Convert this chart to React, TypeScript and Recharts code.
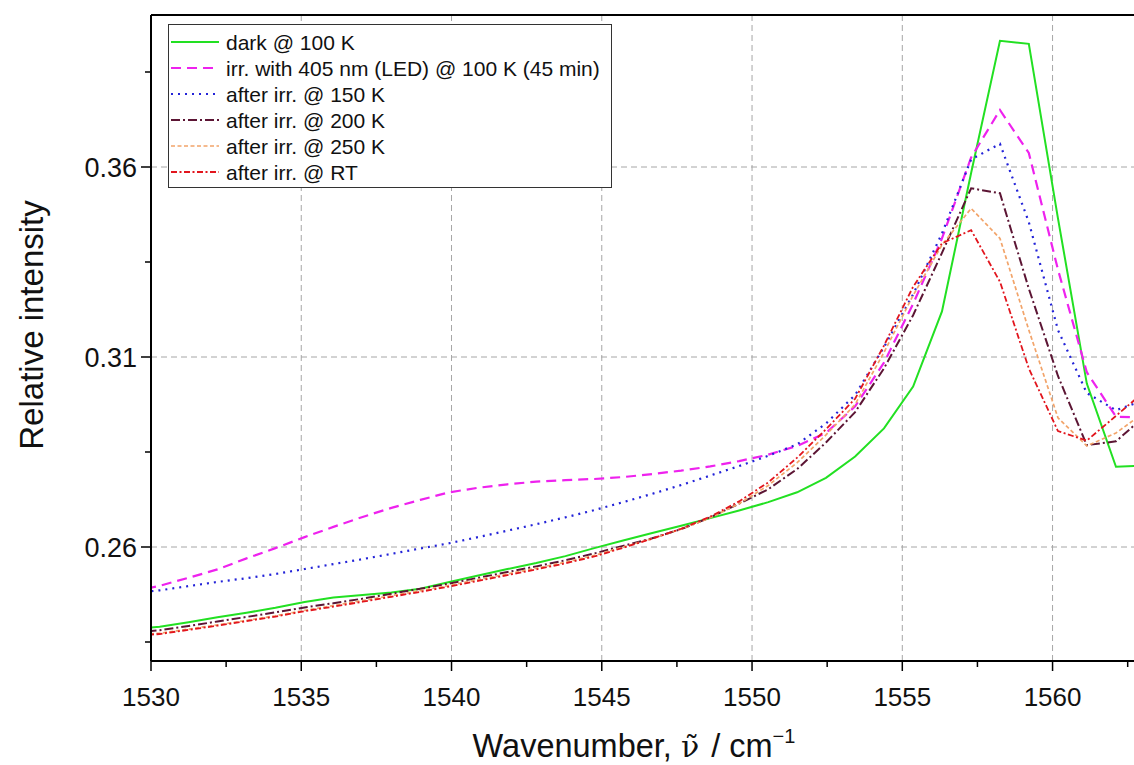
import {
  CartesianGrid,
  Legend,
  Line,
  LineChart,
  ReferenceLine,
  XAxis,
  YAxis,
} from "recharts";

const FONT = '"Liberation Sans", Arial, sans-serif';

// wavenumber grid of the spectra (cm^-1)
const WAVENUMBER = [
  1529.32, 1530.29, 1531.25, 1532.21, 1533.18, 1534.14, 1535.11, 1536.07,
  1537.04, 1538.0, 1538.96, 1539.93, 1540.89, 1541.86, 1542.82, 1543.79,
  1544.75, 1545.71, 1546.68, 1547.64, 1548.61, 1549.57, 1550.54, 1551.5,
  1552.46, 1553.43, 1554.39, 1555.36, 1556.32, 1557.29, 1558.25, 1559.21,
  1560.18, 1561.14, 1562.11, 1563.07,
];

const DARK_100K = [
  0.2383, 0.239, 0.2402, 0.2415, 0.2427, 0.244, 0.2455, 0.2467, 0.2474, 0.248,
  0.249, 0.2508, 0.2525, 0.2542, 0.2558, 0.2576, 0.2597, 0.2617, 0.2637,
  0.2656, 0.2676, 0.2696, 0.2718, 0.2744, 0.2782, 0.2838, 0.2912, 0.3022,
  0.322, 0.3584, 0.3932, 0.3924, 0.3465, 0.303, 0.2811, 0.2814,
];

const IRR_405_100K = [
  0.2481, 0.2498, 0.2519, 0.2541, 0.257, 0.2597, 0.2626, 0.2653, 0.2679,
  0.2703, 0.2724, 0.2744, 0.2756, 0.2765, 0.2772, 0.2776, 0.2779, 0.2784,
  0.2792, 0.2801, 0.2812, 0.2826, 0.2843, 0.2866, 0.29, 0.297, 0.3085, 0.324,
  0.3412, 0.3625, 0.375, 0.3637, 0.333, 0.306, 0.2943, 0.294,
];

const AFTER_150K = [
  0.2478, 0.2486, 0.2497, 0.2508, 0.2518, 0.2529, 0.2542, 0.2555, 0.2568,
  0.2582, 0.2596, 0.261, 0.2626, 0.2643, 0.266, 0.2678, 0.2697, 0.2718, 0.274,
  0.2763, 0.2788, 0.2813, 0.284, 0.287, 0.2925, 0.3, 0.3126, 0.3265, 0.3425,
  0.362, 0.3661, 0.3455, 0.3171, 0.3005, 0.296, 0.2987,
];

const AFTER_200K = [
  0.2375, 0.2381, 0.2392, 0.2404, 0.2416, 0.2428, 0.2441, 0.2452, 0.2464,
  0.2477, 0.249, 0.2504, 0.2519, 0.2534, 0.2549, 0.2565, 0.2583, 0.2603,
  0.2623, 0.2647, 0.2678, 0.2714, 0.2752, 0.2805, 0.2875, 0.2955, 0.307,
  0.321, 0.3374, 0.3544, 0.3531, 0.328, 0.305, 0.2868, 0.2878, 0.2945,
];

const AFTER_250K = [
  0.2368, 0.2373, 0.2384, 0.2395, 0.2407, 0.2419, 0.2433, 0.2446, 0.2459,
  0.2472, 0.2485, 0.2499, 0.2514, 0.2529, 0.2544, 0.256, 0.2578, 0.26, 0.2622,
  0.2647, 0.2677, 0.2714, 0.2762, 0.2822, 0.2895, 0.2975, 0.3112, 0.3262,
  0.3395, 0.3491, 0.3412, 0.3171, 0.294, 0.2866, 0.29, 0.2955,
];

const AFTER_RT = [
  0.2366, 0.2371, 0.2382, 0.2393, 0.2405, 0.2417, 0.2431, 0.2443, 0.2456,
  0.2469, 0.2482, 0.2496, 0.2511, 0.2526, 0.2541, 0.2557, 0.2575, 0.2598,
  0.2622, 0.2648, 0.268, 0.272, 0.277, 0.2835, 0.291, 0.299, 0.313, 0.3285,
  0.3399, 0.3434, 0.3298, 0.307, 0.2905, 0.288, 0.2945, 0.301,
];

const X_TICKS = [
  1530, 1532.5, 1535, 1537.5, 1540, 1542.5, 1545, 1547.5, 1550, 1552.5, 1555,
  1557.5, 1560, 1562.5,
];
const Y_TICKS = [0.235, 0.26, 0.285, 0.31, 0.335, 0.36, 0.385];
const X_GRID = [1535, 1540, 1545, 1550, 1555, 1560];
const Y_GRID = [0.26, 0.31, 0.36];

const SERIES = [
  { key: "dark", name: "dark @ 100 K", values: DARK_100K, color: "#22e022", dash: undefined, width: 2 },
  { key: "irr", name: "irr. with 405 nm (LED) @ 100 K (45 min)", values: IRR_405_100K, color: "#ee22ee", dash: "10 6", width: 2.2 },
  { key: "k150", name: "after irr. @ 150 K", values: AFTER_150K, color: "#2323d8", dash: "2 5", width: 2.2 },
  { key: "k200", name: "after irr. @ 200 K", values: AFTER_200K, color: "#5c1534", dash: "9 3 2 3", width: 2 },
  { key: "k250", name: "after irr. @ 250 K", values: AFTER_250K, color: "#f2a46a", dash: "4 2.5", width: 1.7 },
  { key: "rt", name: "after irr. @ RT", values: AFTER_RT, color: "#e2151d", dash: "6 2.5 2 2.5", width: 1.8 },
];

const data = WAVENUMBER.map((x, i) => {
  const row: Record<string, number> = { x };
  SERIES.forEach((s) => {
    row[s.key] = s.values[i];
  });
  return row;
});

const isMajor = (v: number, base: number, step: number) =>
  Math.abs((v - base) / step - Math.round((v - base) / step)) < 1e-6;

function XTick({ x, y, payload }: any) {
  const major = isMajor(payload.value, 1530, 5);
  return (
    <g>
      <line x1={x} x2={x} y1={y} y2={y + (major ? 10 : 6)} stroke="#000" strokeWidth={1.5} />
      {major && (
        <text x={x} y={y + 45} textAnchor="middle" fontSize={26} fontFamily={FONT} fill="#111">
          {payload.value}
        </text>
      )}
    </g>
  );
}

function YTick({ x, y, payload }: any) {
  const major = isMajor(payload.value, 0.26, 0.05);
  return (
    <g>
      <line x1={x} x2={x - (major ? 10 : 6)} y1={y} y2={y} stroke="#000" strokeWidth={1.5} />
      {major && (
        <text x={x - 14} y={y + 9.5} textAnchor="end" fontSize={27} fontFamily={FONT} fill="#111">
          {payload.value.toFixed(2)}
        </text>
      )}
    </g>
  );
}

function XTitle() {
  return (
    <text x={634} y={757} textAnchor="middle" fontSize={32.5} fontFamily={FONT} fill="#111">
      <tspan>Wavenumber, </tspan>
      <tspan fontFamily='"DejaVu Serif", serif' fontSize={30}>ν̃</tspan>
      <tspan dx={12}>/ cm</tspan>
      <tspan dy={-14} fontSize={20}>−1</tspan>
    </text>
  );
}

function YTitle() {
  return (
    <text
      x={31}
      y={325}
      transform="rotate(-90 31 325)"
      textAnchor="middle"
      dominantBaseline="central"
      fontSize={33}
      fontFamily={FONT}
      fill="#111"
    >
      Relative intensity
    </text>
  );
}

function LegendBox() {
  return (
    <svg width={444} height={164} style={{ display: "block" }}>
      <rect x={0.5} y={0.5} width={443} height={163} fill="#fff" stroke="#333" strokeWidth={1} />
      {SERIES.map((s, i) => {
        const cy = 18 + i * 26;
        return (
          <g key={s.key}>
            <line x1={3} x2={51} y1={cy} y2={cy} stroke={s.color} strokeWidth={s.width} strokeDasharray={s.dash} />
            <text x={58} y={cy + 7.5} fontSize={21} fontFamily={FONT} fill="#111">
              {s.name}
            </text>
          </g>
        );
      })}
    </svg>
  );
}

export default function App() {
  return (
    <div style={{ width: 1134, height: 765, background: "#fff" }}>
      <style>{"body{margin:0;overflow:hidden}"}</style>
      <LineChart width={1134} height={765} data={data} margin={{ top: 15, right: 0, bottom: 0, left: 0 }}>
        <CartesianGrid
          horizontalValues={Y_GRID}
          verticalValues={X_GRID}
          stroke="#a6a6a6"
          strokeDasharray="6 4"
        />
        <XAxis
          type="number"
          dataKey="x"
          domain={[1530, 1562.71]}
          allowDataOverflow
          ticks={X_TICKS}
          interval={0}
          tick={<XTick />}
          tickLine={false}
          tickSize={0}
          tickMargin={0}
          height={104}
          axisLine={{ stroke: "#000", strokeWidth: 2 }}
          label={{ content: <XTitle /> }}
        />
        <YAxis
          type="number"
          domain={[0.23, 0.4]}
          allowDataOverflow
          ticks={Y_TICKS}
          interval={0}
          tick={<YTick />}
          tickLine={false}
          tickSize={0}
          tickMargin={0}
          width={151}
          axisLine={{ stroke: "#000", strokeWidth: 2 }}
          label={{ content: <YTitle /> }}
        />
        <ReferenceLine y={0.4} stroke="#000" strokeWidth={2} />
        {SERIES.map((s) => (
          <Line
            key={s.key}
            type="linear"
            dataKey={s.key}
            name={s.name}
            stroke={s.color}
            strokeWidth={s.width}
            strokeDasharray={s.dash}
            dot={false}
            activeDot={false}
            isAnimationActive={false}
          />
        ))}
        <Legend
          layout="vertical"
          align="center"
          verticalAlign="middle"
          wrapperStyle={{ left: 168, top: 24, width: 444, height: 164 }}
          content={() => <LegendBox />}
        />
      </LineChart>
    </div>
  );
}
